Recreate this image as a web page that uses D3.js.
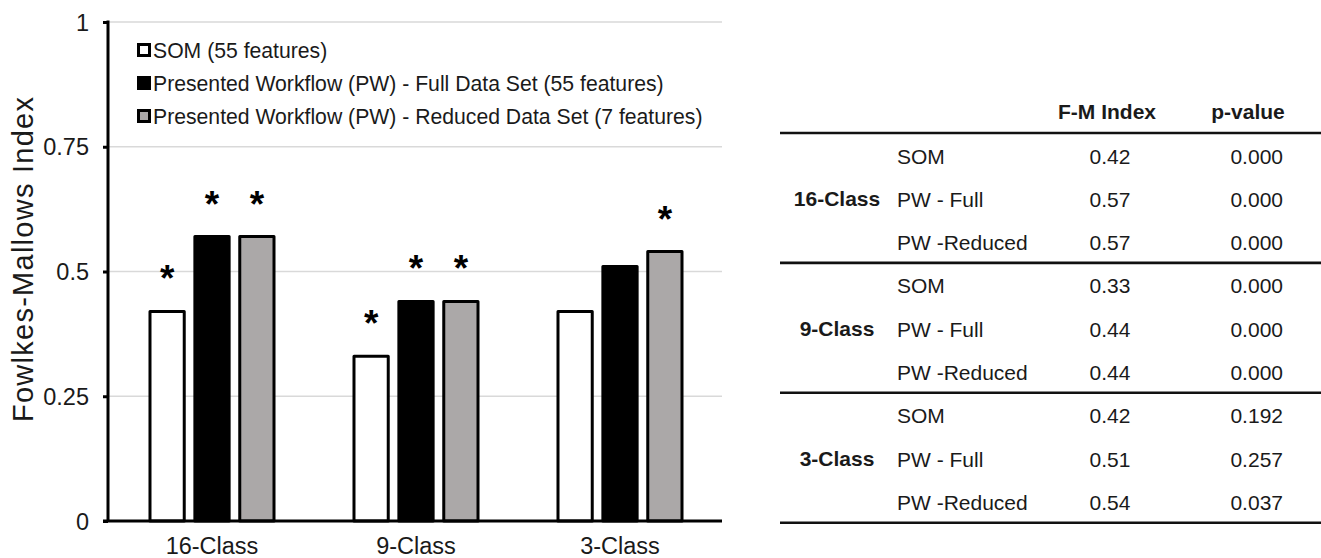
<!DOCTYPE html>
<html>
<head>
<meta charset="utf-8">
<script src="https://cdn.jsdelivr.net/npm/d3@7"></script>
<style>
  html, body { margin: 0; padding: 0; background: #fff; }
  svg { display: block; font-family: "Liberation Sans", Arial, sans-serif; }
</style>
</head>
<body>
<svg id="fig" width="1321" height="558"></svg>
<script>
// ---- data ----
const categories = ["16-Class", "9-Class", "3-Class"];
const seriesKeys = ["som", "full", "reduced"];
const seriesNames = [
  "SOM (55 features)",
  "Presented Workflow (PW) - Full Data Set (55 features)",
  "Presented Workflow (PW) - Reduced Data Set (7 features)"
];
const seriesFills = ["#ffffff", "#000000", "#aba8a8"];
const somValues = [0.42, 0.33, 0.42];
const fullValues = [0.57, 0.44, 0.51];
const reducedValues = [0.57, 0.44, 0.54];
const somP = ["0.000", "0.000", "0.192"];
const fullP = ["0.000", "0.000", "0.257"];
const reducedP = ["0.000", "0.000", "0.037"];
const methodLabels = ["SOM", "PW - Full", "PW -Reduced"];
const yTicks = [0, 0.25, 0.5, 0.75, 1];
const yTickLabels = ["0", "0.25", "0.5", "0.75", "1"];
const tableHeaders = ["F-M Index", "p-value"];
const yTitle = "Fowlkes-Mallows Index";

const valuesBySeries = [somValues, fullValues, reducedValues];
const pBySeries = [somP, fullP, reducedP];

const svg = d3.select("#fig");
const ink = "#1a1a1a";

// ---- scales ----
const plotLeft = 108, plotRight = 722, plotTop = 22, plotBottom = 521;
const y = d3.scaleLinear().domain([0, 1]).range([plotBottom, plotTop]);
const x0 = d3.scaleBand().domain(categories).range([110, 722])
  .paddingInner(0.34).paddingOuter(0.17);
const x1 = d3.scaleBand().domain(seriesKeys).range([0, x0.bandwidth()])
  .paddingInner(0.17).paddingOuter(0.085);

// ---- gridlines ----
svg.append("g").selectAll("line").data(yTicks.filter(d => d > 0)).join("line")
  .attr("x1", plotLeft).attr("x2", plotRight)
  .attr("y1", d => y(d)).attr("y2", d => y(d))
  .attr("stroke", "#d9d9d9").attr("stroke-width", 1.6);

// ---- y axis ----
const yAxis = d3.axisLeft(y).tickValues(yTicks)
  .tickFormat((d, i) => yTickLabels[i]).tickSize(5).tickPadding(14);
const gy = svg.append("g").attr("transform", `translate(${plotLeft},0)`).call(yAxis);
gy.select(".domain").remove();
gy.selectAll(".tick line").attr("stroke", "#000").attr("stroke-width", 3);
gy.selectAll(".tick text").attr("fill", ink)
  .style("font-size", "23.5px").attr("dy", "0.34em");
svg.append("line")
  .attr("x1", plotLeft).attr("x2", plotLeft)
  .attr("y1", plotTop - 1.5).attr("y2", plotBottom)
  .attr("stroke", "#000").attr("stroke-width", 3);

// y axis title
svg.append("text")
  .attr("transform", `translate(33,${(97 + 422) / 2}) rotate(-90)`)
  .attr("text-anchor", "middle")
  .attr("textLength", 325).attr("lengthAdjust", "spacing")
  .attr("fill", ink).style("font-size", "29px")
  .text(yTitle);

// ---- bars ----
const groups = svg.append("g").selectAll("g").data(categories).join("g")
  .attr("transform", d => `translate(${x0(d)},0)`);

groups.selectAll("rect")
  .data((c, ci) => seriesKeys.map((k, si) => ({ k, si, v: valuesBySeries[si][ci] })))
  .join("rect")
  .attr("x", d => x1(d.k) + 1.5)
  .attr("width", x1.bandwidth() - 3)
  .attr("y", d => y(d.v))
  .attr("height", d => y(0) - y(d.v))
  .attr("fill", d => seriesFills[d.si])
  .attr("stroke", "#000").attr("stroke-width", 3)
  .attr("stroke-linejoin", "round");

// significance markers (p < 0.05)
groups.selectAll("text.sig")
  .data((c, ci) => seriesKeys.map((k, si) => ({ k, si, v: valuesBySeries[si][ci], p: +pBySeries[si][ci] }))
    .filter(d => d.p < 0.05))
  .join("text").attr("class", "sig")
  .attr("x", d => x1(d.k) + x1.bandwidth() / 2)
  .attr("y", d => y(d.v) - 20)
  .attr("text-anchor", "middle")
  .attr("fill", "#000").style("font-size", "37px").style("font-weight", "bold")
  .text("*");

// baseline
svg.append("line")
  .attr("x1", plotLeft - 5).attr("x2", plotRight)
  .attr("y1", plotBottom).attr("y2", plotBottom)
  .attr("stroke", "#000").attr("stroke-width", 3.2);

// x axis labels
const xAxis = d3.axisBottom(x0).tickSize(0).tickPadding(0);
const gx = svg.append("g").attr("transform", `translate(0,${plotBottom})`).call(xAxis);
gx.select(".domain").remove();
gx.selectAll(".tick text").attr("fill", ink).attr("dy", null)
  .attr("y", 33).style("font-size", "23.5px");

// ---- legend ----
const legendRows = [50, 83, 116];
const lg = svg.append("g").selectAll("g").data(seriesNames).join("g")
  .attr("transform", (d, i) => `translate(138,${legendRows[i]})`);
lg.append("rect")
  .attr("x", 0.5).attr("y", -5.5).attr("width", 11).attr("height", 11)
  .attr("fill", (d, i) => seriesFills[i])
  .attr("stroke", "#000").attr("stroke-width", 3);
lg.append("text")
  .attr("x", 15).attr("y", 0).attr("dy", "0.36em")
  .attr("fill", ink).style("font-size", "21.2px")
  .text(d => d);

// ---- table ----
const tbl = svg.append("g");
const tLeft = 780, tRight = 1321;
const rowH = 43.3;
const tableTop = 133;
const colGroup = 837, colMethod = 897, colFM = 1110, colP = 1283;
const tFont = "21px";

tbl.selectAll("text.hdr").data(tableHeaders).join("text").attr("class", "hdr")
  .attr("x", (d, i) => i === 0 ? 1107 : 1248)
  .attr("y", 112).attr("dy", "0.35em")
  .attr("text-anchor", "middle")
  .attr("fill", ink).style("font-size", tFont).style("font-weight", "bold")
  .text(d => d);

const ruleYs = d3.range(categories.length + 1).map(i => tableTop + i * rowH * 3);
tbl.selectAll("line").data(ruleYs).join("line")
  .attr("x1", tLeft).attr("x2", tRight)
  .attr("y1", d => d).attr("y2", d => d)
  .attr("stroke", "#111").attr("stroke-width", 2.6);

const blocks = tbl.selectAll("g.block").data(categories).join("g").attr("class", "block")
  .attr("transform", (d, i) => `translate(0,${tableTop + i * rowH * 3})`);

blocks.append("text")
  .attr("x", colGroup).attr("y", rowH * 1.5 + 1).attr("dy", "0.35em")
  .attr("text-anchor", "middle")
  .attr("fill", ink).style("font-size", tFont).style("font-weight", "bold")
  .text(d => d);

const rows = blocks.selectAll("g.row")
  .data((c, ci) => seriesKeys.map((k, si) => ({
    method: methodLabels[si],
    fm: valuesBySeries[si][ci].toFixed(2),
    p: pBySeries[si][ci]
  })))
  .join("g").attr("class", "row")
  .attr("transform", (d, i) => `translate(0,${rowH * (i + 0.5) + 1.5})`);

rows.append("text").attr("x", colMethod).attr("dy", "0.35em")
  .attr("fill", ink).style("font-size", tFont).text(d => d.method);
rows.append("text").attr("x", colFM).attr("dy", "0.35em").attr("text-anchor", "middle")
  .attr("fill", ink).style("font-size", tFont).text(d => d.fm);
rows.append("text").attr("x", colP).attr("dy", "0.35em").attr("text-anchor", "end")
  .attr("fill", ink).style("font-size", tFont).text(d => d.p);
</script>
</body>
</html>
